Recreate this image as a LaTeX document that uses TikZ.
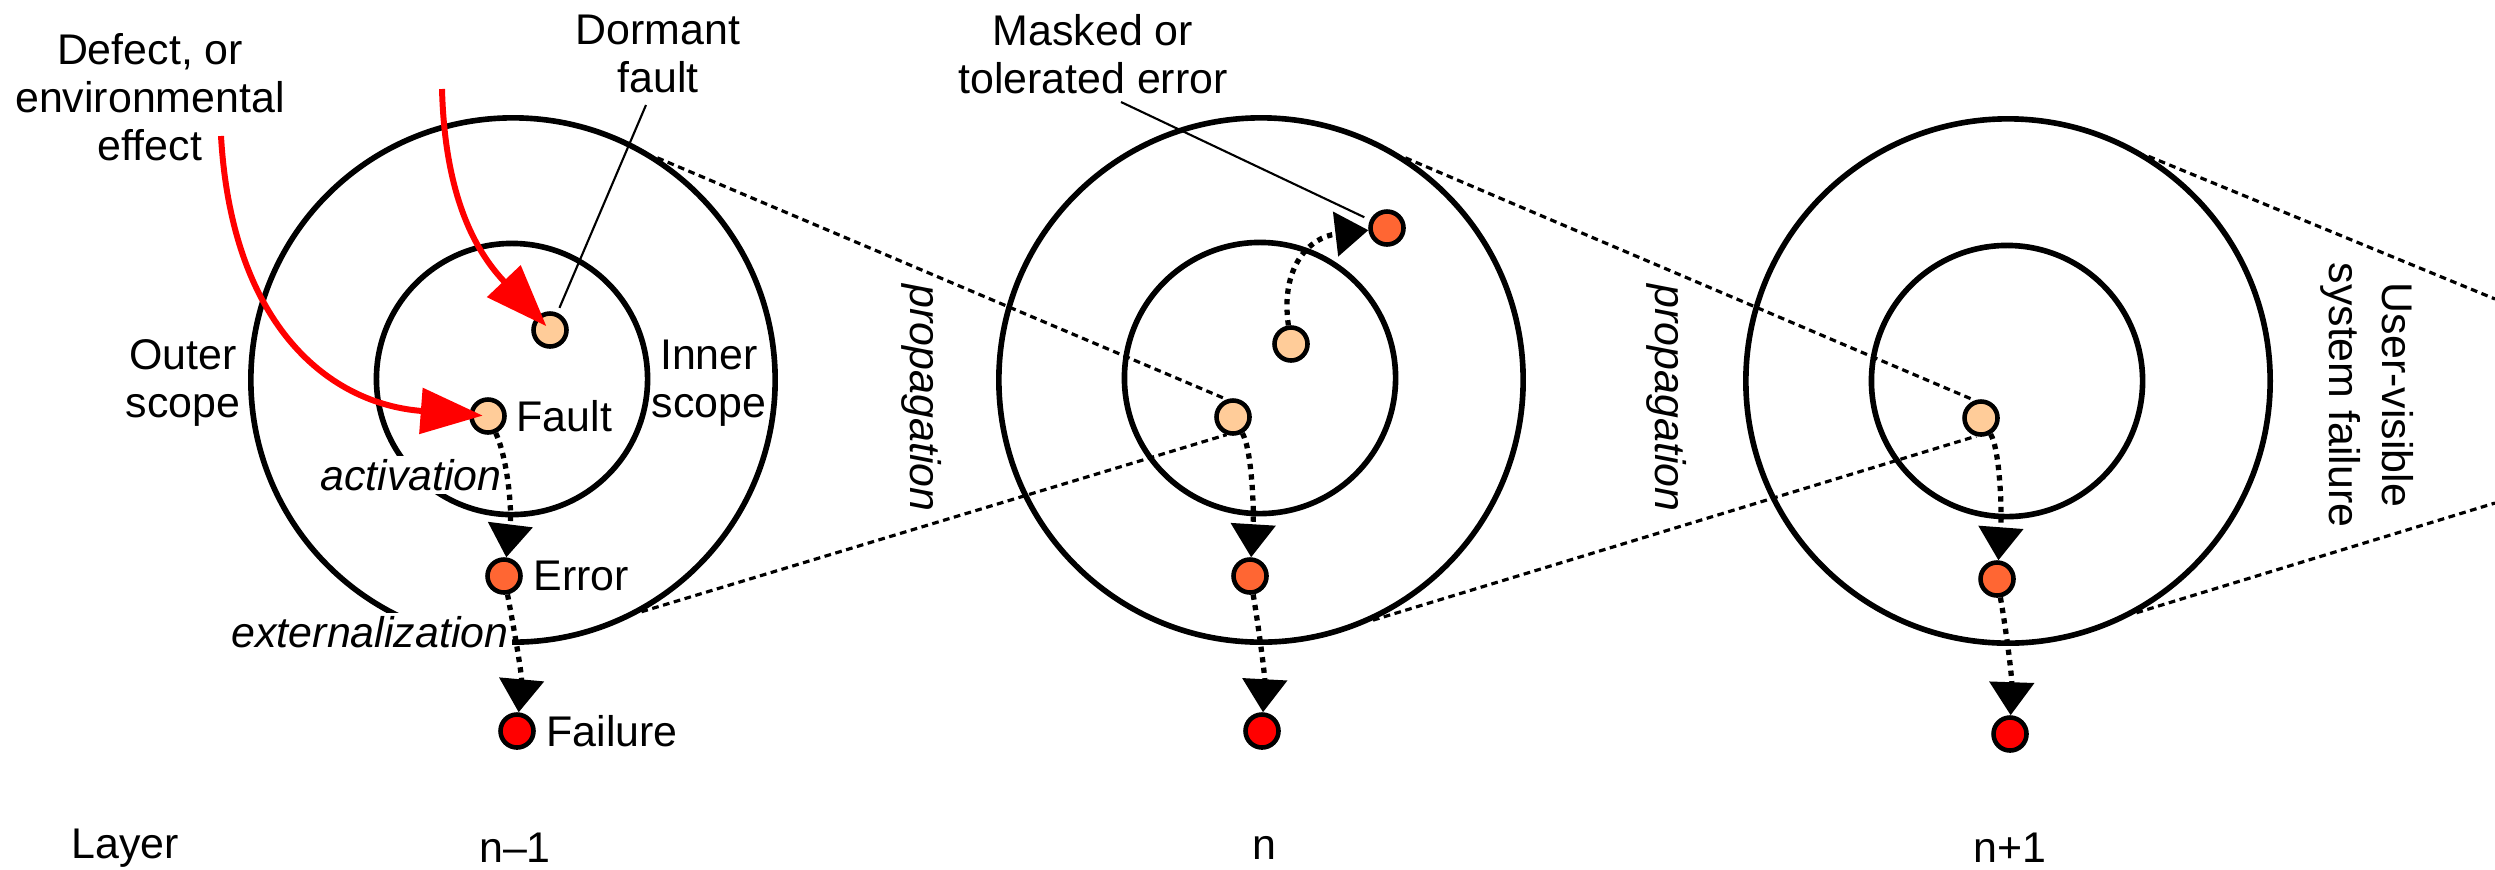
\documentclass[tikz,border=0pt]{standalone}
\usepackage{fontspec}
\setmainfont{Liberation Sans}
\usetikzlibrary{arrows.meta,shapes.geometric}
\definecolor{peach}{HTML}{FFCC99}
\definecolor{orng}{HTML}{FF6633}
\definecolor{redd}{HTML}{FF0000}
\begin{document}
\begin{tikzpicture}[x=0.01cm,y=-0.01cm,
  ring/.style={circle, draw, line width=1.6pt, minimum size=5.24cm, inner sep=0pt},
  inring/.style={ring, minimum size=2.71cm},
  dot/.style={circle, draw, line width=1.3pt, minimum size=0.33cm, inner sep=0pt},
  fdot/.style={dot, fill=peach},
  edot/.style={dot, fill=orng},
  xdot/.style={dot, fill=redd},
  lbl/.style={font=\fontsize{12.2}{13.7}\selectfont, inner sep=0pt, align=center},
  ilbl/.style={font=\fontsize{12.2}{13.7}\selectfont\itshape, inner sep=1pt, fill=white},
  plbl/.style={font=\fontsize{12.2}{13.7}\selectfont\itshape, inner sep=0pt, rotate=-90},
  prop/.style={line width=0.9pt, dash pattern=on 1.9pt off 1.3pt},
  flow/.style={line width=1.5pt, dash pattern=on 1.5pt off 1.5pt, -{Triangle[length=0.33cm,width=0.44cm]}},
  cause/.style={draw=redd, line width=1.7pt, shorten >=1.5pt, -{Triangle[length=0.62cm,width=0.45cm]}},
  leader/.style={line width=0.6pt},
]
\useasboundingbox (0,0) rectangle (2495,869);
% rings
\node[ring] (outA) at (513,380) {};
\node[inring] (inA) at (512,379) {};
\node[ring] (outB) at (1261,380) {};
\node[inring] (inB) at (1260,378) {};
\node[ring] (outC) at (2008,381) {};
\node[inring] (inC) at (2007,381) {};
% dots
\node[fdot] (dormA) at (550,330) {};
\node[fdot] (faultA) at (488,416) {};
\node[edot] (errA) at (504,576) {};
\node[xdot] (failA) at (517,731) {};
\node[edot] (maskB) at (1387,228) {};
\node[fdot] (dormB) at (1291,344) {};
\node[fdot] (faultB) at (1233,417) {};
\node[edot] (errB) at (1250,576) {};
\node[xdot] (failB) at (1262,731) {};
\node[fdot] (faultC) at (1981,418) {};
\node[edot] (errC) at (1997,579) {};
\node[xdot] (failC) at (2010,734) {};
% labels
\node[lbl] (defect) at (150,97) {Defect, or\\environmental\\effect};
\node[lbl] (dormlbl) at (658,54) {Dormant\\fault};
\node[lbl] (outerlbl) at (183,383) {Outer\\scope};
\node[lbl] (innerlbl) at (709,383) {Inner\\scope};
\node[lbl, anchor=west] (faultlbl) at (516,416) {Fault};
\node[ilbl] (act) at (411,475) {activation};
\node[lbl, anchor=west] (errlbl) at (533,576) {Error};
\node[ilbl] (ext) at (370,632) {externalization};
\node[lbl, anchor=west] (faillbl) at (546,731) {Failure};
\node[lbl] (layer) at (125,848) {Layer};
\node[lbl] (lnm) at (515,848) {n\textendash 1};
\node[lbl] (ln) at (1264,848) {n};
\node[lbl] (lnp) at (2010,848) {n+1};
\node[lbl] (masklbl) at (1093,54) {Masked or\\tolerated error};
\node[plbl] (propA) at (922,398) {propagation};
\node[plbl] (propB) at (1667,398) {propagation};
\node[lbl, rotate=-90] (uservis) at (2367,395) {User-visible\\[1.5pt]system failure};
% propagation lines
\coordinate (endU) at (2495,299);
\coordinate (endL) at (2495,503);
\draw[prop] (outA.57) -- (faultB.110);
\draw[prop] (outA.-61) -- (faultB.250);
\draw[prop] (outB.57) -- (faultC.110);
\draw[prop] (outB.-65) -- (faultC.255);
\draw[prop] (outC.58.6) -- (endU);
\draw[prop] (outC.-61.4) -- (endL);
% leaders
\coordinate (dormtip) at (646,105);
\coordinate (masktip) at (1121,102);
\draw[leader, shorten <=1.5pt] (dormA) -- (dormtip);
\draw[leader, shorten >=1.8pt] (masktip) -- (maskB);
% causes
\coordinate (srcA) at (221,136);
\coordinate (srcB) at (442,89);
\draw[cause] (srcA) .. controls (232,327) and (330,404) .. (faultA.center);
\draw[cause] (srcB) .. controls (445,204) and (480,256) .. (dormA.center);
% flows
\draw[flow] (faultA) .. controls (508,460) and (512,511) .. (errA);
\draw[flow] (errA) .. controls (515,634) and (522,675) .. (failA);
\draw[flow] (faultB) .. controls (1252,450) and (1254,511) .. (errB);
\draw[flow] (errB) .. controls (1258,623) and (1265,675) .. (failB);
\draw[flow] (dormB) .. controls (1280,266) and (1310,237) .. (maskB);
\draw[flow] (faultC) .. controls (2000,450) and (2002,512) .. (errC);
\draw[flow] (errC) .. controls (2005,623) and (2012,675) .. (failC);
\end{tikzpicture}
\end{document}
